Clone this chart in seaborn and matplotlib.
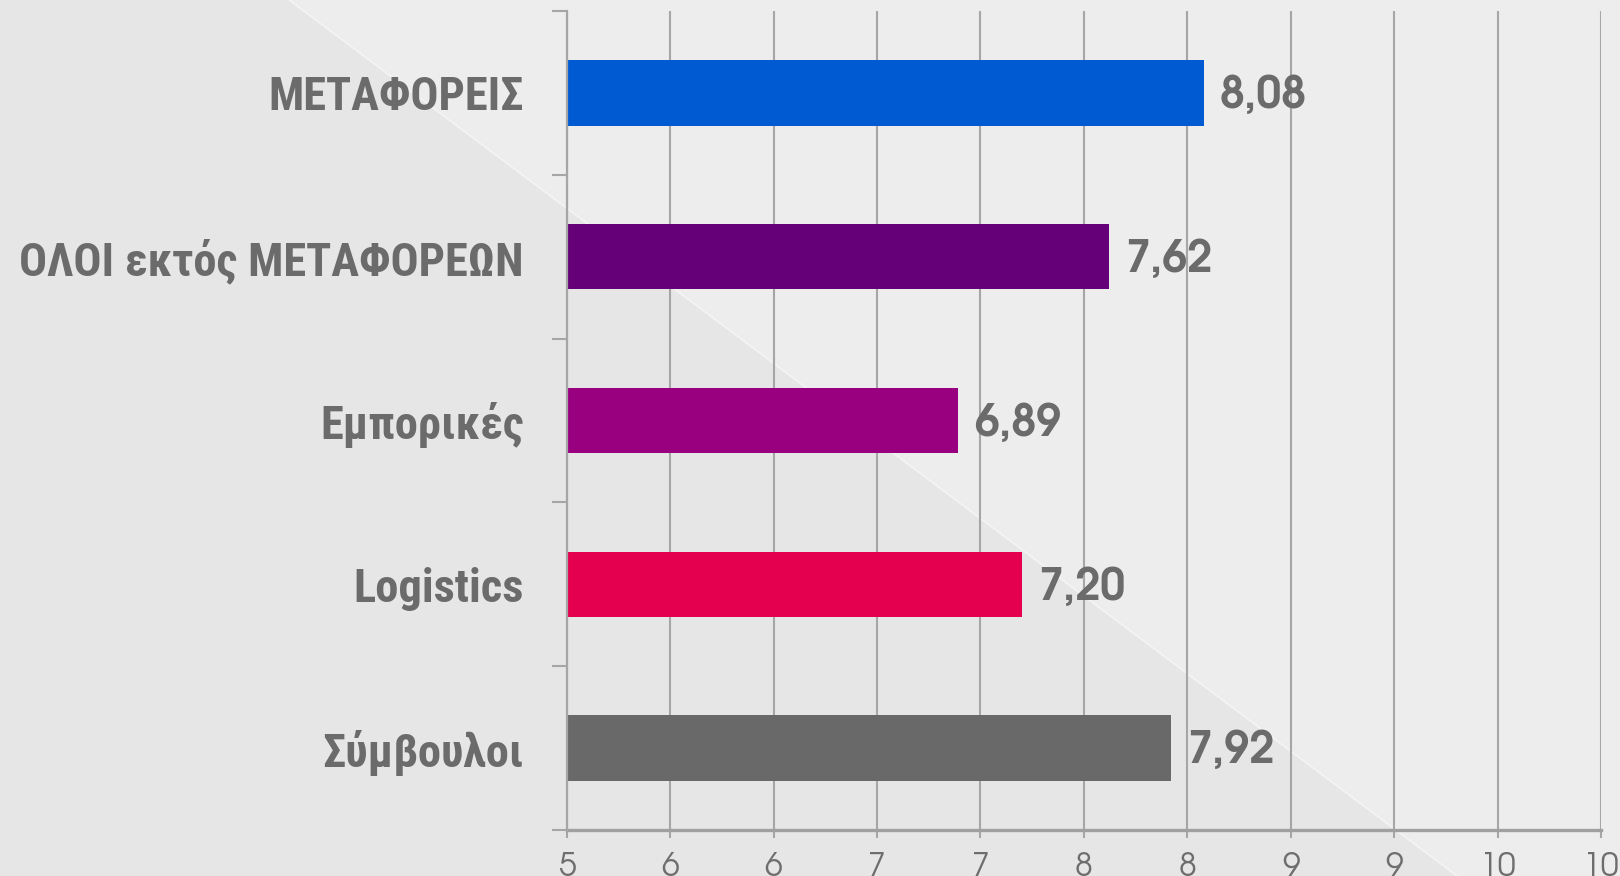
import matplotlib
matplotlib.use("Agg")
import matplotlib.pyplot as plt
import seaborn as sns
import numpy as np
import pandas as pd
from matplotlib.patches import Polygon
from matplotlib.lines import Line2D

categories = ["ΜΕΤΑΦΟΡΕΙΣ", "ΟΛΟΙ εκτός ΜΕΤΑΦΟΡΕΩΝ", "Εμπορικές", "Logistics", "Σύμβουλοι"]
values = [8.08, 7.62, 6.89, 7.20, 7.92]
colors = ["#005bd3", "#660078", "#990080", "#e5004f", "#696969"]
x_ticks = [5, 5.5, 6, 6.5, 7, 7.5, 8, 8.5, 9, 9.5, 10]
x_tick_labels = ["5", "6", "6", "7", "7", "8", "8", "9", "9", "10", "10"]

sns.set_theme(style="white")
plt.rcParams["font.family"] = ["Roboto Condensed", "Liberation Sans", "DejaVu Sans"]
num_font = ["TeX Gyre Adventor", "Liberation Sans", "DejaVu Sans"]

W, H = 1620, 876
fig = plt.figure(figsize=(W / 100, H / 100), dpi=100)
fig.patch.set_facecolor("#ededed")

# background: darker lower-left triangle with a thin white diagonal
x0, x1 = 289 / W, 1457 / W
tri = Polygon([(0, 1), (x0, 1), (x1, 0), (0, 0)], closed=True,
              transform=fig.transFigure, facecolor="#e6e6e6", edgecolor="none", zorder=-5)
fig.patches.append(tri)
fig.lines.append(Line2D([x0, x1], [1, 0], transform=fig.transFigure, color="#f6f6f6", lw=1.0, zorder=-4))

left, right, top, bottom = 566.7, 1601, 11, 830
ax = fig.add_axes([left / W, 1 - bottom / H, (right - left) / W, (bottom - top) / H])
ax.set_facecolor("none")
ax.set_zorder(2)

df = pd.DataFrame({"cat": categories, "val": values})
sns.barplot(data=df, x="val", y="cat", hue="cat", palette=colors, orient="h",
            width=0.4, legend=False, ax=ax, zorder=3, saturation=1, linewidth=0)

ax.set_xlim(5, 10)
ax.set_ylim(len(categories) - 0.5, -0.5)

# vertical gridlines
ax.set_xticks(x_ticks)
ax.set_xticklabels(x_tick_labels)
ax.xaxis.grid(True, color="#a6a6a6", linewidth=1.5, zorder=1)
ax.set_axisbelow(True)
ax.yaxis.grid(False)

for lbl in ax.get_xticklabels():
    lbl.set_fontfamily(num_font)
    lbl.set_fontweight("normal")
    lbl.set_fontsize(23)
    lbl.set_color("#6e6e6e")
ax.tick_params(axis="x", which="major", length=6, width=1.5, color="#a6a6a6", pad=10, bottom=True)

# y ticks: marks at category boundaries, labels at centres
ax.set_yticks(np.arange(len(categories) + 1) - 0.5)
ax.set_yticklabels([])
ax.set_yticks(np.arange(len(categories)), minor=True)
ax.set_yticklabels(categories, minor=True)
ax.tick_params(axis="y", which="major", length=11, width=1.5, color="#a6a6a6", left=True)
ax.tick_params(axis="y", which="minor", length=0, pad=31, left=True)
for lbl in ax.get_yticklabels(minor=True):
    lbl.set_fontweight("bold")
    lbl.set_fontsize(33.5)
    lbl.set_color("#6b6b6b")
ax.set_xlabel("")
ax.set_ylabel("")

for s in ["top", "right"]:
    ax.spines[s].set_visible(False)
ax.spines["left"].set_color("#a6a6a6")
ax.spines["left"].set_linewidth(1.6)
ax.spines["bottom"].set_color("#a0a0a0")
ax.spines["bottom"].set_linewidth(2.4)
ax.spines["left"].set_zorder(4)

# data labels
for i, v in enumerate(values):
    ax.annotate(f"{v:.2f}".replace(".", ","), xy=(v, i), xytext=(11.5, -2),
                textcoords="offset points", va="center", ha="left",
                fontsize=32, fontweight="bold", color="#6b6b6b", zorder=5,
                fontfamily=num_font)

fig.savefig("out.png", dpi=100)
